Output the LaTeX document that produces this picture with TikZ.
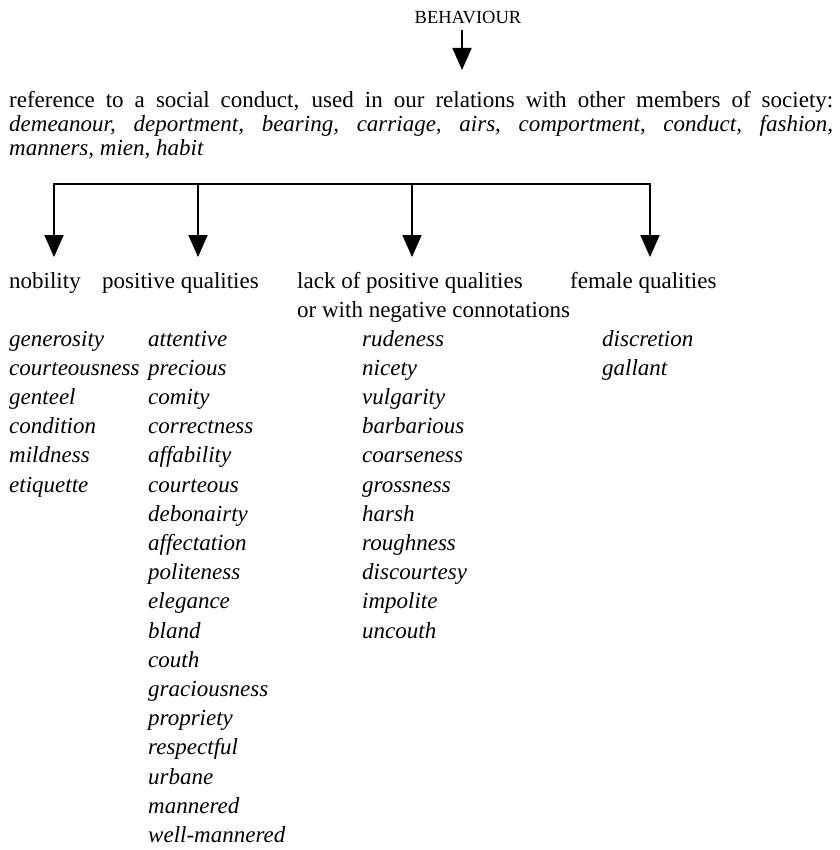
\documentclass[tikz,border=0pt]{standalone}
\usepackage{fontspec}
\setmainfont{Liberation Serif}
\usetikzlibrary{arrows.meta}
\begin{document}
\begin{tikzpicture}[x=1pt,y=-1pt,
  txt/.style={anchor=base west, inner sep=0pt, font=\fontsize{23}{24}\selectfont},
  itm/.style={anchor=base west, inner sep=0pt, font=\fontsize{23}{24}\selectfont\itshape},
  conn/.style={line width=1.8pt, line cap=rect},
  arr/.style={line width=1.8pt, -{Triangle[width=19pt,length=22pt]}}
]
\useasboundingbox (0,0) rectangle (839,850);
\fill[white] (0,0) rectangle (839,850);

% title
\node[anchor=base, inner sep=0pt, font=\fontsize{18.5}{20}\selectfont] (beh) at (468,23.5) {BEHAVIOUR};
\coordinate (behtip) at (462,70);
\draw[arr, shorten <=6.5pt] (beh.south -| behtip) -- (behtip);

% paragraph
\node[txt] (par1) at (9,107.5) {\makebox[824pt][s]{reference to a social conduct, used in our relations with other members of society:}};
\node[itm] (par2) at (9,131.5) {\makebox[824pt][s]{demeanour, deportment, bearing, carriage, airs, comportment, conduct, fashion,}};
\node[itm] (par3) at (9,155.5) {manners, mien, habit};

% branching bar
\coordinate (j1) at (54,184);
\coordinate (j2) at (198,184);
\coordinate (j3) at (412,184);
\coordinate (j4) at (650,184);
\coordinate (t1) at (54,257);
\coordinate (t2) at (198,257);
\coordinate (t3) at (412,257);
\coordinate (t4) at (650,257);
\draw[conn] (j1) -- (j4);
\foreach \i in {1,2,3,4} \draw[arr] (j\i) -- (t\i);

% headings
\node[txt] (h1) at (9,288) {nobility};
\node[txt] (h2) at (102,288) {positive qualities};
\node[txt] (h3) at (297,288) {lack of positive qualities};
\node[txt] (h3b) at (297,317) {or with negative connotations};
\node[txt] (h4) at (570,288) {female qualities};

% lists
\foreach \w [count=\k from 0] in {generosity,courteousness,genteel,condition,mildness,etiquette}
  \node[itm] (nob-\k) at (9,346+29.2*\k) {\w};
\foreach \w [count=\k from 0] in {attentive,precious,comity,correctness,affability,courteous,debonairty,affectation,politeness,elegance,bland,couth,graciousness,propriety,respectful,urbane,mannered,well-mannered}
  \node[itm] (pos-\k) at (148,346+29.2*\k) {\w};
\foreach \w [count=\k from 0] in {rudeness,nicety,vulgarity,barbarious,coarseness,grossness,harsh,roughness,discourtesy,impolite,uncouth}
  \node[itm] (neg-\k) at (362,346+29.2*\k) {\w};
\foreach \w [count=\k from 0] in {discretion,gallant}
  \node[itm] (fem-\k) at (602,346+29.2*\k) {\w};
\end{tikzpicture}
\end{document}
